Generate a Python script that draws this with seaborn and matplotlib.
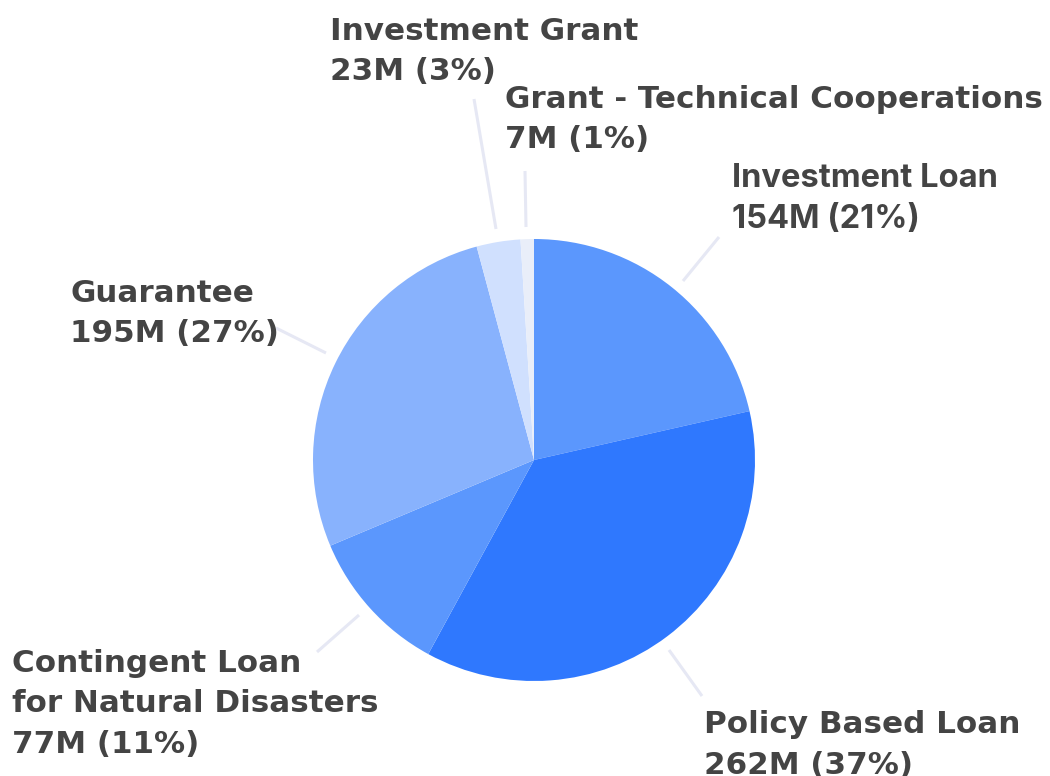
import matplotlib
matplotlib.use("Agg")
import matplotlib.pyplot as plt
import seaborn as sns

sns.set_theme(style="white")
plt.rcParams['font.family'] = ['DejaVu Sans']

# ---- data ----
categories = ["Investment Loan", "Policy Based Loan", "Contingent Loan\nfor Natural Disasters",
              "Guarantee", "Investment Grant", "Grant - Technical Cooperations"]
values = [154, 262, 77, 195, 23, 7]
value_labels = ["154M (21%)", "262M (37%)", "77M (11%)", "195M (27%)", "23M (3%)", "7M (1%)"]
colors = ["#5b97fd", "#2f78fe", "#5b97fd", "#88b2fd", "#d0e0fe", "#e9eef9"]

W, H = 1050, 776
fig = plt.figure(figsize=(W / 100, H / 100), dpi=100)
ax = fig.add_axes([0, 0, 1, 1])

def Y(py):
    return H - py

cx, cy, r = 534, 460, 221
ax.pie(values, colors=colors, startangle=90, counterclock=False,
       center=(cx, Y(cy)), radius=r, frame=True,
       wedgeprops=dict(linewidth=0, antialiased=True))
ax.set_xlim(0, W)
ax.set_ylim(0, H)
ax.set_aspect('equal')
ax.axis('off')

# leader lines (pixel coords)
leaders = [
    ((683, 281), (719, 237)),
    ((669, 650), (702, 696)),
    ((359, 615), (317, 652)),
    ((326, 353), (276, 328)),
    ((496, 229), (474, 99)),
    ((526, 227), (525, 171)),
]
for (x0, y0), (x1, y1) in leaders:
    ax.plot([x0, x1], [Y(y0), Y(y1)], color="#e6e8f4", lw=2.2, solid_capstyle='butt')

# label positions: (x, baseline of first line), line spacing
label_pos = [(732, 187), (704, 733), (12, 672), (70, 302), (330, 40), (505, 108)]
fonts = ['Inter', 'DejaVu Sans', 'DejaVu Sans', 'DejaVu Sans', 'DejaVu Sans', 'DejaVu Sans']
sizes = [23.5, 22.3, 22.3, 22.3, 22.3, 22.3]
spacing = 40.5
for cat, vl, (x, yb), fam, fs in zip(categories, value_labels, label_pos, fonts, sizes):
    lines = cat.split("\n") + [vl]
    for i, ln in enumerate(lines):
        ax.text(x, Y(yb + i * spacing), ln, ha='left', va='baseline',
                fontsize=fs, fontweight='bold', color='#444444', family=fam)

fig.savefig("out.png", dpi=100, facecolor='white')
